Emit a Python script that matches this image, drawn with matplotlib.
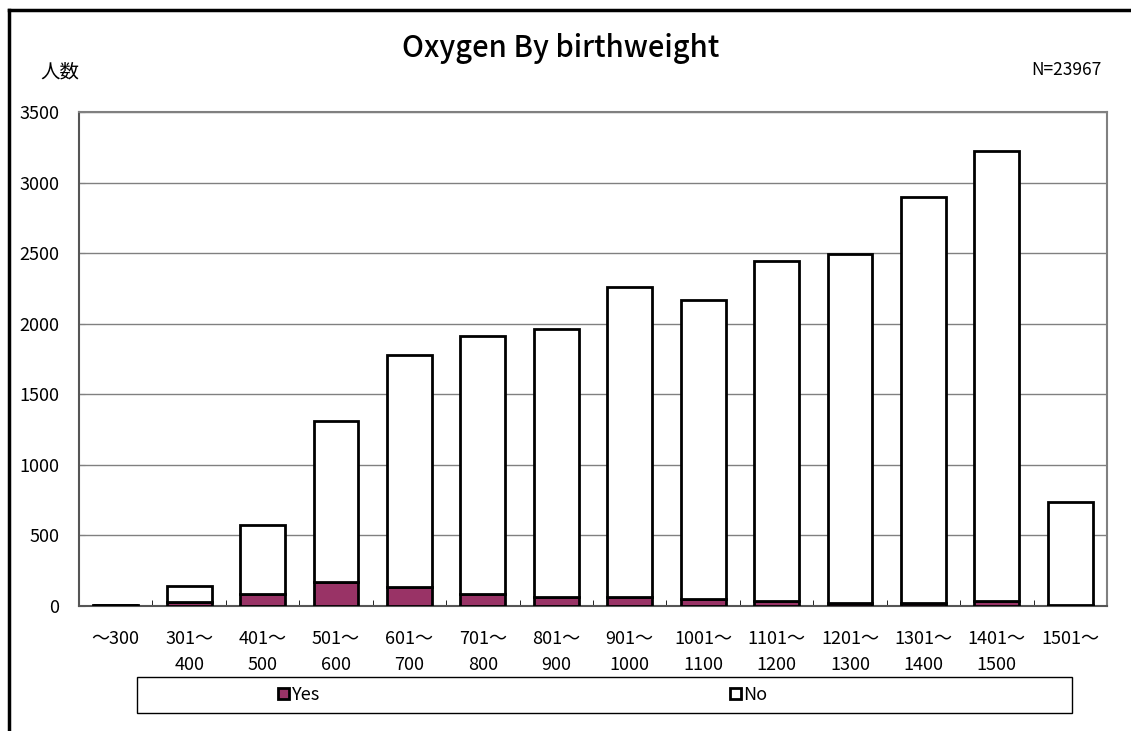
import matplotlib
matplotlib.use("Agg")
import matplotlib.pyplot as plt
from matplotlib.lines import Line2D
from matplotlib.patches import Rectangle
import numpy as np

plt.rcParams['font.family'] = ['Noto Sans CJK JP', 'DejaVu Sans']

# dados
categorias = ["～300", "301～\n400", "401～\n500", "501～\n600", "601～\n700",
              "701～\n800", "801～\n900", "901～\n1000", "1001～\n1100",
              "1101～\n1200", "1201～\n1300", "1301～\n1400", "1401～\n1500", "1501～"]
total = [10, 144, 573, 1315, 1782, 1912, 1963, 2263, 2166, 2443, 2494, 2898, 3228, 734]
sim = [5, 28, 83, 168, 137, 85, 61, 62, 47, 33, 18, 22, 38, 6]
nao = [t - s for t, s in zip(total, sim)]

cor_sim = "#993366"
cinza = "#808080"

fig = plt.figure(figsize=(11.31, 7.31), dpi=100)
ax = fig.add_axes([79 / 1131, 1 - 606 / 731, (1107 - 79) / 1131, (606 - 112.3) / 731])

x = np.arange(len(categorias))
b1 = ax.bar(x, sim, width=0.61, color=cor_sim, edgecolor="black", linewidth=2, label="Yes", zorder=3)
b2 = ax.bar(x, nao, width=0.61, bottom=sim, color="white", edgecolor="black", linewidth=2, label="No", zorder=3)

ax.set_xlim(-0.5, len(categorias) - 0.5)
ax.set_ylim(0, 3500)
ax.set_yticks(np.arange(0, 3501, 500))
ax.yaxis.grid(True, color=cinza, linewidth=1)
ax.set_axisbelow(True)

ax.set_xticks(x)
ax.set_xticklabels(categorias, fontsize=13, linespacing=1.6)
ax.set_xticks(np.arange(0.5, len(categorias) - 0.5, 1), minor=True)
ax.tick_params(axis="x", which="major", length=0, pad=17)
ax.tick_params(axis="x", which="minor", direction="in", length=4, color="black")
ax.tick_params(axis="y", direction="in", length=4, pad=14, labelsize=13, color=cinza)

for lado in ["top", "right"]:
    ax.spines[lado].set_color(cinza)
    ax.spines[lado].set_linewidth(1.5)
ax.spines["left"].set_color("#555555")
ax.spines["left"].set_linewidth(1.5)
ax.spines["bottom"].set_color("#555555")
ax.spines["bottom"].set_linewidth(1.5)

# textos
fig.text(561 / 1131, 1 - 49 / 731, "Oxygen By birthweight", ha="center", va="center",
         fontsize=21, fontweight="medium")
fig.text(40 / 1131, 1 - 72 / 731, "人数", ha="left", va="center", fontsize=14)
fig.text(1102 / 1131, 1 - 70 / 731, "N=23967", ha="right", va="center", fontsize=12.5)

# borda externa
fig.add_artist(Line2D([9 / 1131, 9 / 1131], [0, 1 - 10 / 731], color="black", linewidth=2.5))
fig.add_artist(Line2D([9 / 1131, 1], [1 - 10 / 731, 1 - 10 / 731], color="black", linewidth=2.5))

# legenda
fig.add_artist(Rectangle((137 / 1131, 1 - 713 / 731), (1072 - 137) / 1131, 36 / 731,
                         transform=fig.transFigure, fill=False, edgecolor="black", linewidth=1))
fig.legend(handles=[b1, b2], loc="center", bbox_to_anchor=(523 / 1131, 1 - 695 / 731),
           ncol=2, frameon=False, fontsize=13, handlelength=0.6, handleheight=0.6,
           handletextpad=0.15, columnspacing=22.7)

fig.savefig("out.png", dpi=100)
